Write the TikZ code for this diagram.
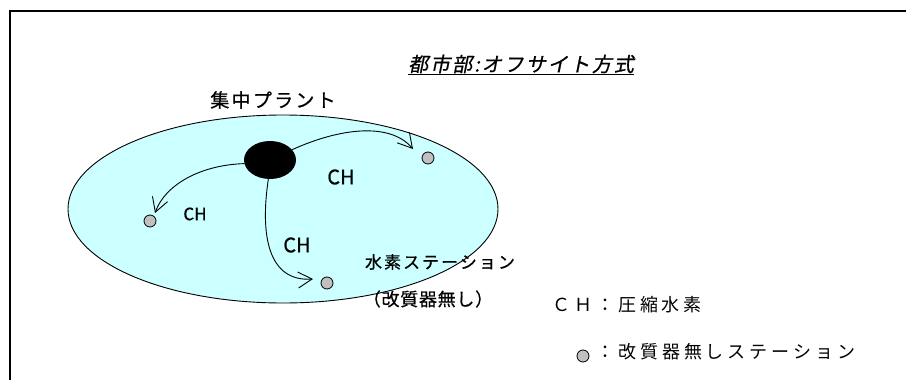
\documentclass[tikz,border=0pt]{standalone}
\usepackage{fontspec}
\usetikzlibrary{shapes.geometric,arrows.meta}
\newfontfamily\jp[FakeBold=0.6]{Noto Sans CJK JP}
\newfontfamily\jpthin{Noto Sans CJK JP}
\newfontfamily\jpit[FakeSlant=0.2,FakeBold=0.6]{Noto Sans CJK JP}
\definecolor{lagoon}{HTML}{CCFFFF}
\definecolor{dotgray}{HTML}{C0C0C0}
\tikzset{
  frame/.style={line width=1.3pt, line cap=rect},
  region/.style={ellipse, draw, line width=0.9pt, fill=lagoon, minimum width=430pt, minimum height=188pt, inner sep=0pt},
  plant/.style={ellipse, fill=black, minimum width=52pt, minimum height=38pt, inner sep=0pt},
  station/.style={circle, draw, line width=0.8pt, fill=dotgray, minimum size=12pt, inner sep=0pt},
  flow/.style={line width=0.9pt, -{Straight Barb[length=14pt, width=16pt, line width=0.9pt]}},
  lbl/.style={inner sep=0pt, font=\jp},
}
\begin{document}
\begin{tikzpicture}[x=1pt, y=-1pt]
\useasboundingbox (0,0) rectangle (906,380);
\draw[frame] (906,11) -- (10,11) -- (10,380);

\node[region] (city) at (283,209) {};
\node[plant] (plant) at (270,160) {};
\node[station] (s1) at (428,158) {};
\node[station] (s2) at (150,221) {};
\node[station] (s3) at (327,283) {};
\coordinate (t1) at (413,149);
\coordinate (t2) at (155,213);
\coordinate (t3) at (313,279);

\draw[flow] (plant.25) .. controls (340,128) and (390,122) .. (t1);
\draw[flow] (plant.188) .. controls (200,165) and (165,185) .. (t2);
\draw[flow] (plant.265) .. controls (260,235) and (268,282) .. (t3);

\node[lbl, font=\jpit\fontsize{20}{22}\selectfont\addfontfeature{LetterSpace=10}] (title) at (521,65) {\underline{都市部:オフサイト方式}};
\node[lbl, font=\jp\fontsize{19}{21}\selectfont\addfontfeature{LetterSpace=12}] (plantlbl) at (273,100) {集中プラント};
\node[lbl, font=\jp\fontsize{20}{22}\selectfont] (ch1) at (341,177) {CH};
\node[lbl, font=\jp\fontsize{17}{19}\selectfont] (ch2) at (195,214) {CH};
\node[lbl, font=\jp\fontsize{20}{22}\selectfont] (ch3) at (297,245) {CH};
\node[lbl, font=\jp\fontsize{17}{19}\selectfont\addfontfeature{LetterSpace=12}] (stlbl) at (440,262) {水素ステーション};
\node[lbl, font=\jp\fontsize{18}{20}\selectfont\addfontfeature{LetterSpace=4}] (stlbl2) at (428,299) {（改質器無し）};

\node[lbl, anchor=west, font=\jpthin\fontsize{18}{20}\selectfont\addfontfeature{LetterSpace=22}] (leg1) at (552,305) {ＣＨ：圧縮水素};
\node[station, minimum size=12pt] (legdot) at (583,356) {};
\node[lbl, anchor=west, font=\jpthin\fontsize{18}{20}\selectfont\addfontfeature{LetterSpace=22}] (leg2) at (596,352) {：改質器無しステーション};
\end{tikzpicture}
\end{document}
